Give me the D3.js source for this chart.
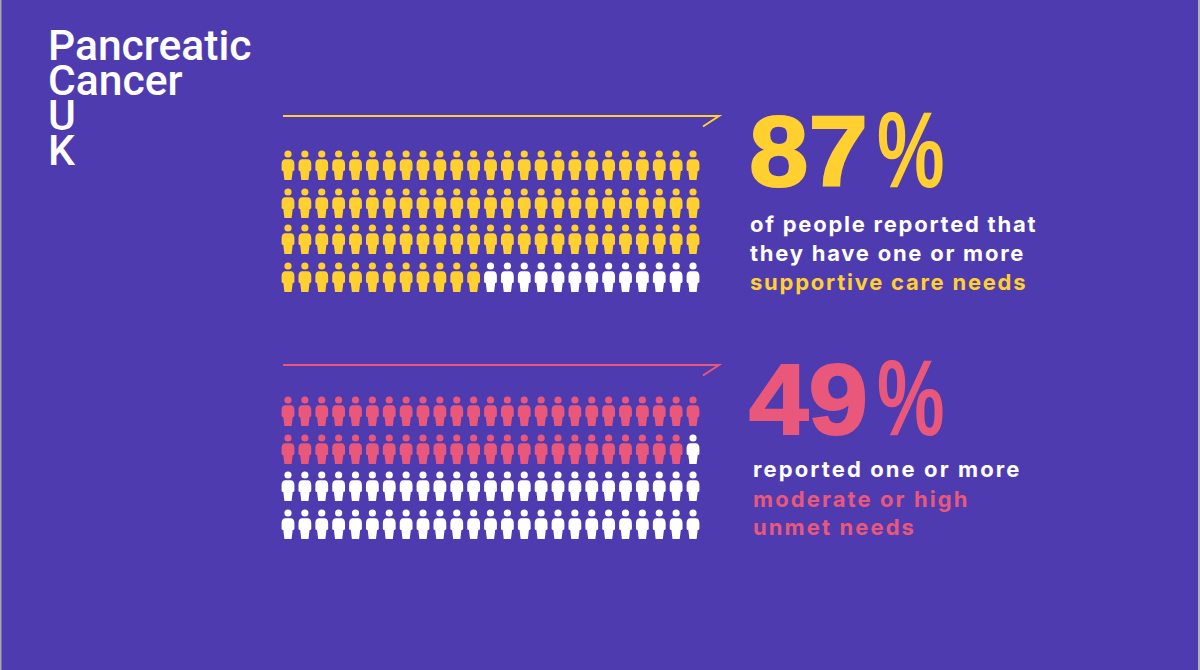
<!DOCTYPE html>
<html>
<head>
<meta charset="utf-8">
<script src="https://cdn.jsdelivr.net/npm/d3@7"></script>
<style>
html, body { margin: 0; padding: 0; background: #4f3bb0; }
svg { display: block; }
</style>
</head>
<body>
<div id="main"></div>
<script>
const columns = d3.range(25);
const rows = d3.range(4);
const panelNames = ["care", "unmet"];
const panelPercents = [87, 49];
const panelColors = ["#ffd02f", "#e9587b"];
const panelLabels = [
    [["of people reported that", "#fff"], ["they have one or more", "#fff"], ["supportive care needs", "#ffd02f"]],
    [["reported one or more", "#fff"], ["moderate or high", "#e9587b"], ["unmet needs", "#e9587b"]]
];
const logoLines = ["Pancreatic", "Cancer", "U", "K"];

const width = 1200;
const height = 670;
const rowTops = [[154, 192, 228, 266], [400, 438, 475, 513]];
const lineY = [116, 365];
const bigY = [186, 434];
const labelX = [750, 753];
const labelY = [[232, 261, 290], [477, 507, 535]];
const labelSpacing = [1.75, 2.1];

const svg = d3.select("#main").append("svg")
    .attr("width", width)
    .attr("height", height);

svg.append("rect")
    .attr("width", width)
    .attr("height", height)
    .attr("fill", "#4f3bb0");

// thin grey edges of the original screenshot
svg.append("rect").attr("width", 1.5).attr("height", height).attr("fill", "#a8a8a8");
svg.append("rect").attr("x", width - 2).attr("width", 2).attr("height", height).attr("fill", "#b4b4b4");

svg.selectAll(".logo")
    .data(logoLines)
    .enter()
    .append("text")
    .attr("class", "logo")
    .attr("x", 48)
    .attr("y", (d, i) => 60 + i * 35)
    .attr("fill", "#fff")
    .style("font-family", "Roboto")
    .style("font-weight", 500)
    .style("font-size", "42.6px")
    .text(d => d);

const xScale = d3.scalePoint().domain(columns).range([288, 693]);

// one person, origin at the middle of the head
function person(g) {
    g.append("circle").attr("r", 3.6);
    g.append("path").attr("d", "M-2.6,5.3 H2.6 C5,5.3 6.4,7 6.4,10 V15.8 Q6.4,17 4.7,17 L3.6,26 H-3.6 L-4.7,17 Q-6.4,17 -6.4,15.8 V10 C-6.4,7 -5,5.3 -2.6,5.3 Z");
}

panelNames.forEach((name, p) => {
    const yScale = d3.scaleOrdinal().domain(rows).range(rowTops[p]);
    const panel = svg.append("g").attr("id", name);
    const cells = rows.flatMap(r => columns.map(c => ({ r, c, on: r * 25 + c < panelPercents[p] })));

    panel.selectAll("g.person")
        .data(cells)
        .enter()
        .append("g")
        .attr("class", "person")
        .attr("transform", d => "translate(" + xScale(d.c) + "," + yScale(d.r) + ")")
        .attr("fill", d => d.on ? panelColors[p] : "#fff")
        .call(person);

    panel.append("path")
        .attr("d", "M283," + lineY[p] + " H719 L703," + (lineY[p] + 10.5))
        .attr("fill", "none")
        .attr("stroke", panelColors[p])
        .attr("stroke-width", 2);

    // digits a bit wider, percent sign narrower and taller than the font gives
    panel.append("text")
        .attr("transform", "translate(749," + bigY[p] + ") scale(1.07,1)")
        .attr("fill", panelColors[p])
        .attr("stroke", panelColors[p])
        .attr("stroke-width", 2)
        .style("font-family", "Liberation Sans")
        .style("font-weight", 700)
        .style("font-size", "100px")
        .text(panelPercents[p]);

    panel.append("text")
        .attr("transform", "translate(877," + (bigY[p] + 1) + ") scale(0.76,1.08)")
        .attr("fill", panelColors[p])
        .style("font-family", "Liberation Sans")
        .style("font-weight", 700)
        .style("font-size", "100px")
        .text("%");

    panel.selectAll(".label")
        .data(panelLabels[p])
        .enter()
        .append("text")
        .attr("class", "label")
        .attr("x", labelX[p])
        .attr("y", (d, i) => labelY[p][i])
        .attr("fill", d => d[1])
        .style("font-family", "Inter")
        .style("font-weight", 700)
        .style("font-size", "22px")
        .style("letter-spacing", labelSpacing[p] + "px")
        .text(d => d[0]);
});
</script>
</body>
</html>
